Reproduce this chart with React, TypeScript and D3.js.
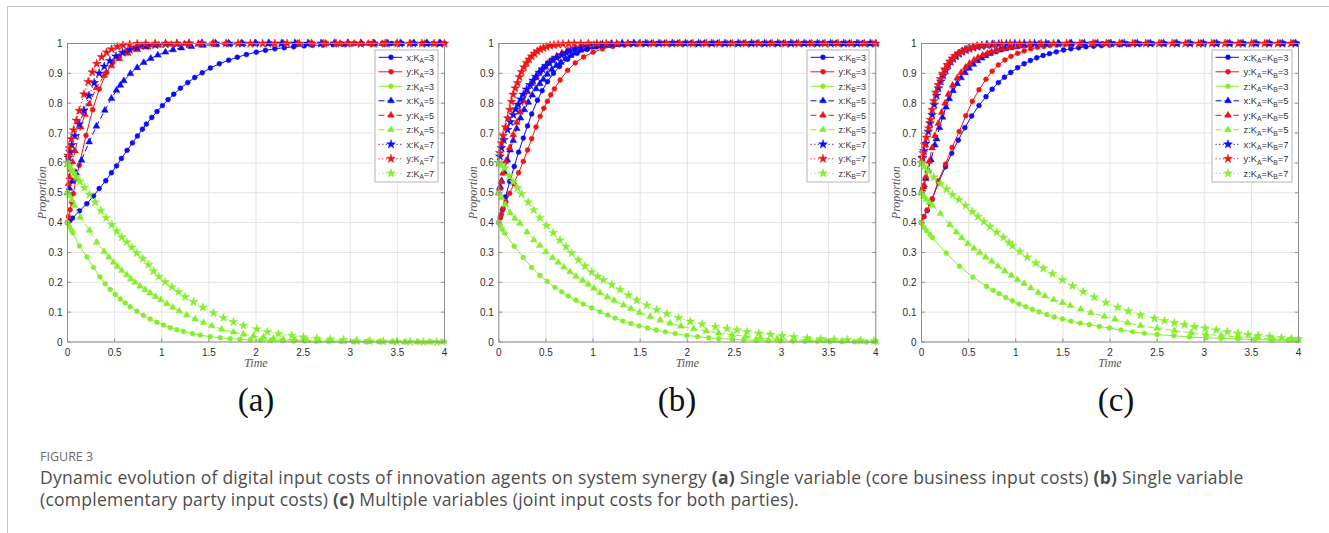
import React from 'react'
import * as d3 from 'd3'

type Pt = [number, number]

const W = 1329
const H = 533
const TOP = 43.5
const BOTTOM = 342
const PW = 377

const xTicks = [0, 0.5, 1, 1.5, 2, 2.5, 3, 3.5, 4]
const yTicks = [0, 0.1, 0.2, 0.3, 0.4, 0.5, 0.6, 0.7, 0.8, 0.9, 1]
const xTickLabels = ['0', '0.5', '1', '1.5', '2', '2.5', '3', '3.5', '4']
const yTickLabels = ['0', '0.1', '0.2', '0.3', '0.4', '0.5', '0.6', '0.7', '0.8', '0.9', '1']

// panel (a): K_A varies
const aX3: Pt[] = [[0,0.4],[0.025,0.406],[0.053,0.415],[0.127,0.439],[0.205,0.463],[0.276,0.489],[0.336,0.514],[0.406,0.54],[0.466,0.567],[0.52,0.59],[0.572,0.615],[0.632,0.642],[0.689,0.667],[0.742,0.69],[0.795,0.713],[0.837,0.73],[0.894,0.752],[0.95,0.772],[1.007,0.792],[1.067,0.812],[1.127,0.83],[1.198,0.85],[1.276,0.869],[1.35,0.886],[1.43,0.902],[1.516,0.918],[1.611,0.932],[1.71,0.944],[1.802,0.954],[1.898,0.963],[2.003,0.971],[2.1,0.977],[2.2,0.982],[2.3,0.986],[2.4,0.989],[2.51,0.992],[2.6,0.994],[2.71,0.995],[2.816,0.997],[2.92,0.997],[3.02,0.998],[3.12,0.999],[3.23,0.999],[3.34,0.999],[3.44,1],[3.55,1],[3.66,1],[3.76,1],[3.88,1],[4,1]]
const aY3: Pt[] = [[0,0.4],[0.01,0.42],[0.028,0.443],[0.045,0.468],[0.062,0.497],[0.09,0.545],[0.125,0.592],[0.196,0.692],[0.267,0.778],[0.337,0.847],[0.415,0.903],[0.48,0.936],[0.55,0.958],[0.62,0.973],[0.7,0.984],[0.78,0.99],[0.87,0.994],[0.96,0.997],[1.06,0.998],[1.17,0.999],[1.29,1],[1.42,1],[1.56,1],[1.7,1],[1.85,1],[2,1],[2.15,1],[2.3,1],[2.45,1],[2.6,1],[2.75,1],[2.9,1],[3.05,1],[3.2,1],[3.35,1],[3.5,1],[3.65,1],[3.8,1],[3.95,1]]
const aZ3: Pt[] = [[0,0.4],[0.021,0.385],[0.042,0.374],[0.057,0.365],[0.127,0.322],[0.205,0.285],[0.276,0.25],[0.343,0.218],[0.4,0.195],[0.453,0.176],[0.506,0.159],[0.559,0.144],[0.612,0.131],[0.665,0.118],[0.736,0.103],[0.806,0.089],[0.877,0.077],[0.948,0.066],[1.019,0.057],[1.089,0.048],[1.16,0.041],[1.23,0.035],[1.326,0.028],[1.41,0.023],[1.514,0.018],[1.62,0.014],[1.726,0.011],[1.83,0.009],[1.94,0.007],[2.05,0.006],[2.16,0.005],[2.28,0.004],[2.4,0.003],[2.52,0.003],[2.64,0.002],[2.77,0.002],[2.9,0.002],[3.03,0.001],[3.16,0.001],[3.3,0.001],[3.44,0.001],[3.58,0],[3.72,0],[3.86,0],[4,0]]
const aX5: Pt[] = [[0,0.5],[0.02,0.515],[0.05,0.538],[0.09,0.567],[0.148,0.609],[0.23,0.67],[0.307,0.723],[0.396,0.776],[0.466,0.816],[0.519,0.843],[0.56,0.86],[0.597,0.875],[0.668,0.899],[0.739,0.919],[0.809,0.936],[0.883,0.95],[0.958,0.961],[1.039,0.971],[1.12,0.979],[1.208,0.985],[1.314,0.99],[1.438,0.994],[1.58,0.997],[1.72,0.998],[1.86,0.999],[2,1],[2.14,1],[2.28,1],[2.42,1],[2.56,1],[2.7,1],[2.84,1],[2.98,1],[3.12,1],[3.26,1],[3.4,1],[3.54,1],[3.68,1],[3.82,1],[3.96,1]]
const aY5: Pt[] = [[0,0.5],[0.01,0.53],[0.02,0.553],[0.035,0.578],[0.053,0.603],[0.08,0.64],[0.141,0.72],[0.185,0.762],[0.23,0.797],[0.307,0.852],[0.389,0.893],[0.466,0.925],[0.55,0.949],[0.64,0.967],[0.74,0.979],[0.85,0.988],[0.97,0.994],[1.1,0.997],[1.24,0.999],[1.39,1],[1.54,1],[1.69,1],[1.84,1],[1.99,1],[2.14,1],[2.29,1],[2.44,1],[2.59,1],[2.74,1],[2.89,1],[3.04,1],[3.19,1],[3.34,1],[3.49,1],[3.64,1],[3.79,1],[3.94,1]]
const aZ5: Pt[] = [[0,0.5],[0.021,0.49],[0.045,0.476],[0.075,0.457],[0.134,0.418],[0.233,0.374],[0.311,0.334],[0.389,0.303],[0.439,0.284],[0.488,0.267],[0.53,0.253],[0.576,0.239],[0.63,0.225],[0.672,0.211],[0.718,0.2],[0.771,0.187],[0.824,0.175],[0.877,0.164],[0.934,0.152],[0.99,0.141],[1.054,0.128],[1.118,0.116],[1.185,0.104],[1.266,0.09],[1.355,0.077],[1.443,0.065],[1.531,0.054],[1.637,0.043],[1.761,0.033],[1.867,0.026],[1.973,0.02],[2.08,0.016],[2.186,0.012],[2.29,0.009],[2.415,0.007],[2.54,0.005],[2.67,0.004],[2.8,0.003],[2.93,0.002],[3.06,0.002],[3.19,0.001],[3.32,0.001],[3.45,0.001],[3.58,0],[3.71,0],[3.84,0],[3.97,0]]
const aX7: Pt[] = [[0,0.6],[0.01,0.618],[0.025,0.638],[0.045,0.66],[0.078,0.69],[0.124,0.73],[0.173,0.776],[0.228,0.825],[0.283,0.868],[0.336,0.9],[0.39,0.923],[0.45,0.942],[0.515,0.957],[0.585,0.969],[0.66,0.979],[0.74,0.987],[0.83,0.992],[0.93,0.995],[1.04,0.998],[1.16,0.999],[1.29,1],[1.43,1],[1.57,1],[1.71,1],[1.85,1],[1.99,1],[2.13,1],[2.27,1],[2.41,1],[2.55,1],[2.69,1],[2.83,1],[2.97,1],[3.11,1],[3.25,1],[3.39,1],[3.53,1],[3.67,1],[3.81,1],[3.95,1]]
const aY7: Pt[] = [[0,0.6],[0.008,0.625],[0.02,0.65],[0.04,0.68],[0.065,0.71],[0.095,0.742],[0.125,0.775],[0.175,0.83],[0.22,0.872],[0.263,0.904],[0.31,0.932],[0.362,0.955],[0.415,0.97],[0.468,0.981],[0.53,0.989],[0.59,0.994],[0.66,0.997],[0.74,0.999],[0.83,1],[0.93,1],[1.04,1],[1.16,1],[1.29,1],[1.42,1],[1.55,1],[1.68,1],[1.81,1],[1.94,1],[2.07,1],[2.2,1],[2.33,1],[2.46,1],[2.59,1],[2.72,1],[2.85,1],[2.98,1],[3.11,1],[3.24,1],[3.37,1],[3.5,1],[3.63,1],[3.76,1],[3.89,1],[4,1]]
const aZ7: Pt[] = [[0,0.6],[0.018,0.588],[0.04,0.577],[0.067,0.566],[0.095,0.553],[0.131,0.538],[0.18,0.517],[0.233,0.494],[0.294,0.468],[0.354,0.44],[0.41,0.416],[0.47,0.393],[0.523,0.371],[0.576,0.351],[0.63,0.334],[0.683,0.317],[0.736,0.298],[0.799,0.279],[0.859,0.259],[0.912,0.237],[0.97,0.219],[1.036,0.201],[1.107,0.184],[1.178,0.168],[1.248,0.151],[1.337,0.134],[1.436,0.116],[1.549,0.097],[1.655,0.081],[1.761,0.067],[1.867,0.055],[2.009,0.043],[2.122,0.034],[2.239,0.027],[2.38,0.021],[2.504,0.016],[2.645,0.012],[2.787,0.009],[2.928,0.007],[3.07,0.004],[3.21,0.003],[3.35,0.002],[3.494,0.001],[3.636,0.001],[3.777,0],[3.918,0]]

// panel (b): K_B varies
const bX3: Pt[] = [[0,0.4],[0.018,0.42],[0.04,0.443],[0.071,0.486],[0.116,0.538],[0.164,0.588],[0.21,0.636],[0.26,0.683],[0.305,0.724],[0.349,0.764],[0.41,0.81],[0.46,0.842],[0.516,0.872],[0.58,0.9],[0.644,0.923],[0.73,0.947],[0.83,0.967],[0.936,0.98],[1.04,0.989],[1.15,0.994],[1.27,0.997],[1.4,0.999],[1.54,1],[1.68,1],[1.82,1],[1.96,1],[2.1,1],[2.24,1],[2.38,1],[2.52,1],[2.66,1],[2.8,1],[2.94,1],[3.08,1],[3.22,1],[3.36,1],[3.5,1],[3.64,1],[3.78,1],[3.92,1]]
const bY3: Pt[] = [[0,0.4],[0.015,0.415],[0.028,0.428],[0.046,0.448],[0.075,0.47],[0.115,0.498],[0.16,0.53],[0.21,0.567],[0.26,0.605],[0.305,0.643],[0.349,0.681],[0.395,0.72],[0.438,0.756],[0.478,0.783],[0.516,0.806],[0.552,0.828],[0.59,0.848],[0.651,0.878],[0.73,0.91],[0.811,0.935],[0.9,0.955],[1,0.971],[1.1,0.982],[1.21,0.99],[1.33,0.995],[1.46,0.998],[1.6,0.999],[1.74,1],[1.88,1],[2.02,1],[2.16,1],[2.3,1],[2.44,1],[2.58,1],[2.72,1],[2.86,1],[3,1],[3.14,1],[3.28,1],[3.42,1],[3.56,1],[3.7,1],[3.84,1],[3.98,1]]
const bZ3: Pt[] = [[0,0.4],[0.018,0.39],[0.039,0.377],[0.064,0.364],[0.163,0.321],[0.259,0.283],[0.348,0.25],[0.436,0.223],[0.514,0.203],[0.596,0.183],[0.667,0.168],[0.738,0.154],[0.819,0.14],[0.897,0.127],[0.986,0.114],[1.074,0.101],[1.156,0.09],[1.234,0.08],[1.316,0.07],[1.401,0.062],[1.489,0.054],[1.578,0.047],[1.67,0.04],[1.766,0.034],[1.872,0.028],[1.996,0.022],[2.11,0.018],[2.227,0.014],[2.333,0.011],[2.475,0.009],[2.6,0.007],[2.73,0.005],[2.86,0.004],[2.99,0.003],[3.12,0.003],[3.25,0.002],[3.38,0.002],[3.51,0.001],[3.64,0.001],[3.77,0.001],[3.9,0],[4,0]]
const bX5: Pt[] = [[0,0.5],[0.015,0.52],[0.03,0.54],[0.055,0.57],[0.09,0.61],[0.12,0.643],[0.153,0.675],[0.19,0.715],[0.23,0.75],[0.27,0.778],[0.313,0.803],[0.355,0.827],[0.395,0.848],[0.435,0.865],[0.473,0.88],[0.515,0.897],[0.562,0.913],[0.61,0.926],[0.658,0.937],[0.71,0.949],[0.765,0.96],[0.815,0.969],[0.865,0.977],[0.925,0.983],[0.99,0.988],[1.07,0.992],[1.16,0.995],[1.26,0.997],[1.37,0.999],[1.49,1],[1.62,1],[1.76,1],[1.9,1],[2.04,1],[2.18,1],[2.32,1],[2.46,1],[2.6,1],[2.74,1],[2.88,1],[3.02,1],[3.16,1],[3.3,1],[3.44,1],[3.58,1],[3.72,1],[3.86,1],[4,1]]
const bY5: Pt[] = [[0,0.5],[0.01,0.515],[0.025,0.537],[0.045,0.565],[0.075,0.605],[0.115,0.65],[0.153,0.694],[0.19,0.735],[0.224,0.77],[0.265,0.808],[0.306,0.838],[0.35,0.865],[0.395,0.888],[0.435,0.905],[0.473,0.919],[0.515,0.933],[0.562,0.946],[0.615,0.958],[0.67,0.968],[0.735,0.977],[0.81,0.985],[0.89,0.99],[0.98,0.994],[1.08,0.997],[1.19,0.999],[1.31,1],[1.44,1],[1.58,1],[1.72,1],[1.86,1],[2,1],[2.14,1],[2.28,1],[2.42,1],[2.56,1],[2.7,1],[2.84,1],[2.98,1],[3.12,1],[3.26,1],[3.4,1],[3.54,1],[3.68,1],[3.82,1],[3.96,1]]
const bZ5: Pt[] = [[0,0.5],[0.028,0.484],[0.07,0.46],[0.12,0.433],[0.17,0.414],[0.223,0.398],[0.301,0.368],[0.372,0.342],[0.436,0.323],[0.5,0.302],[0.571,0.282],[0.631,0.267],[0.691,0.251],[0.755,0.235],[0.819,0.22],[0.89,0.206],[0.95,0.193],[1.01,0.18],[1.074,0.165],[1.152,0.151],[1.223,0.139],[1.323,0.124],[1.401,0.112],[1.493,0.099],[1.606,0.085],[1.713,0.073],[1.819,0.063],[1.933,0.053],[2.067,0.044],[2.202,0.037],[2.333,0.03],[2.475,0.024],[2.617,0.019],[2.777,0.014],[2.954,0.01],[3.13,0.008],[3.3,0.006],[3.47,0.004],[3.64,0.003],[3.82,0.002],[4,0.001]]
const bX7: Pt[] = [[0,0.6],[0.011,0.622],[0.028,0.65],[0.053,0.677],[0.093,0.711],[0.123,0.737],[0.153,0.761],[0.18,0.78],[0.206,0.796],[0.233,0.813],[0.26,0.829],[0.295,0.846],[0.331,0.861],[0.365,0.876],[0.395,0.889],[0.43,0.903],[0.463,0.914],[0.5,0.925],[0.537,0.935],[0.575,0.944],[0.616,0.952],[0.665,0.961],[0.715,0.969],[0.76,0.976],[0.811,0.982],[0.87,0.987],[0.936,0.991],[1.01,0.994],[1.1,0.997],[1.2,0.998],[1.31,1],[1.43,1],[1.56,1],[1.7,1],[1.84,1],[1.98,1],[2.12,1],[2.26,1],[2.4,1],[2.54,1],[2.68,1],[2.82,1],[2.96,1],[3.1,1],[3.24,1],[3.38,1],[3.52,1],[3.66,1],[3.8,1],[3.94,1]]
const bY7: Pt[] = [[0,0.6],[0.011,0.633],[0.028,0.666],[0.046,0.691],[0.071,0.72],[0.095,0.75],[0.117,0.778],[0.135,0.805],[0.153,0.829],[0.175,0.85],[0.199,0.868],[0.22,0.888],[0.242,0.905],[0.268,0.921],[0.295,0.935],[0.32,0.947],[0.349,0.957],[0.378,0.966],[0.409,0.974],[0.44,0.98],[0.473,0.985],[0.507,0.989],[0.544,0.993],[0.585,0.995],[0.63,0.997],[0.68,0.998],[0.74,0.999],[0.8,1],[0.87,1],[0.95,1],[1.04,1],[1.14,1],[1.25,1],[1.37,1],[1.5,1],[1.64,1],[1.78,1],[1.92,1],[2.06,1],[2.2,1],[2.34,1],[2.48,1],[2.62,1],[2.76,1],[2.9,1],[3.04,1],[3.18,1],[3.32,1],[3.46,1],[3.6,1],[3.74,1],[3.88,1],[4,1]]
const bZ7: Pt[] = [[0,0.6],[0.028,0.594],[0.064,0.582],[0.11,0.556],[0.153,0.537],[0.198,0.516],[0.241,0.496],[0.312,0.468],[0.372,0.442],[0.436,0.416],[0.507,0.39],[0.578,0.366],[0.649,0.341],[0.713,0.319],[0.773,0.298],[0.844,0.275],[0.915,0.254],[0.986,0.234],[1.05,0.22],[1.11,0.208],[1.199,0.192],[1.287,0.175],[1.376,0.157],[1.465,0.14],[1.571,0.123],[1.677,0.108],[1.784,0.095],[1.908,0.081],[2.032,0.069],[2.156,0.06],[2.298,0.051],[2.422,0.045],[2.528,0.04],[2.635,0.034],[2.759,0.029],[2.883,0.025],[3.007,0.021],[3.131,0.017],[3.273,0.013],[3.415,0.01],[3.557,0.008],[3.699,0.007],[3.84,0.005],[3.98,0.004]]

// panel (c): K_A = K_B varies
const cX3: Pt[] = [[0,0.4],[0.025,0.42],[0.06,0.44],[0.096,0.461],[0.113,0.477],[0.18,0.535],[0.255,0.587],[0.32,0.632],[0.39,0.676],[0.46,0.718],[0.532,0.757],[0.61,0.792],[0.684,0.822],[0.75,0.847],[0.816,0.869],[0.88,0.887],[0.947,0.903],[1.02,0.919],[1.089,0.932],[1.155,0.943],[1.223,0.952],[1.29,0.96],[1.358,0.966],[1.43,0.972],[1.507,0.978],[1.585,0.982],[1.667,0.986],[1.745,0.989],[1.826,0.991],[1.91,0.993],[2,0.995],[2.1,0.996],[2.2,0.997],[2.32,0.998],[2.45,0.999],[2.58,0.999],[2.72,1],[2.86,1],[3,1],[3.14,1],[3.28,1],[3.42,1],[3.56,1],[3.7,1],[3.84,1],[3.98,1]]
const cY3: Pt[] = [[0,0.4],[0.025,0.42],[0.06,0.442],[0.096,0.462],[0.113,0.48],[0.18,0.54],[0.255,0.596],[0.325,0.652],[0.4,0.705],[0.47,0.758],[0.539,0.806],[0.61,0.845],[0.684,0.88],[0.75,0.907],[0.816,0.928],[0.885,0.945],[0.95,0.957],[1.02,0.967],[1.089,0.975],[1.16,0.982],[1.23,0.987],[1.3,0.99],[1.365,0.993],[1.44,0.995],[1.52,0.997],[1.6,0.998],[1.7,0.999],[1.8,1],[1.92,1],[2.04,1],[2.17,1],[2.3,1],[2.44,1],[2.58,1],[2.72,1],[2.86,1],[3,1],[3.14,1],[3.28,1],[3.42,1],[3.56,1],[3.7,1],[3.84,1],[3.98,1]]
const cZ3: Pt[] = [[0,0.4],[0.025,0.385],[0.053,0.373],[0.089,0.36],[0.117,0.349],[0.262,0.298],[0.404,0.254],[0.546,0.217],[0.691,0.186],[0.76,0.173],[0.823,0.162],[0.894,0.149],[0.965,0.138],[1.035,0.127],[1.106,0.118],[1.177,0.109],[1.248,0.101],[1.33,0.092],[1.408,0.084],[1.496,0.077],[1.585,0.07],[1.684,0.063],[1.78,0.058],[1.887,0.052],[1.993,0.047],[2.117,0.04],[2.241,0.034],[2.365,0.029],[2.5,0.025],[2.677,0.021],[2.844,0.017],[3.02,0.014],[3.18,0.012],[3.358,0.01],[3.535,0.008],[3.713,0.007],[3.89,0.006],[4,0.005]]
const cX5: Pt[] = [[0,0.5],[0.02,0.52],[0.045,0.548],[0.07,0.575],[0.1,0.61],[0.142,0.66],[0.16,0.68],[0.19,0.718],[0.223,0.753],[0.26,0.787],[0.294,0.815],[0.335,0.842],[0.379,0.865],[0.42,0.885],[0.461,0.902],[0.505,0.917],[0.55,0.93],[0.595,0.942],[0.638,0.951],[0.68,0.959],[0.727,0.966],[0.78,0.972],[0.833,0.978],[0.89,0.982],[0.947,0.986],[1.01,0.989],[1.082,0.992],[1.16,0.995],[1.25,0.997],[1.35,0.998],[1.46,0.999],[1.58,1],[1.71,1],[1.85,1],[1.99,1],[2.13,1],[2.27,1],[2.41,1],[2.55,1],[2.69,1],[2.83,1],[2.97,1],[3.11,1],[3.25,1],[3.39,1],[3.53,1],[3.67,1],[3.81,1],[3.95,1]]
const cY5: Pt[] = [[0,0.5],[0.012,0.512],[0.028,0.526],[0.046,0.554],[0.082,0.605],[0.112,0.65],[0.142,0.691],[0.178,0.732],[0.214,0.769],[0.25,0.8],[0.285,0.83],[0.33,0.86],[0.379,0.884],[0.42,0.902],[0.468,0.92],[0.51,0.933],[0.557,0.944],[0.6,0.953],[0.649,0.961],[0.7,0.967],[0.745,0.972],[0.8,0.977],[0.862,0.982],[0.93,0.986],[0.993,0.989],[1.07,0.992],[1.15,0.995],[1.24,0.997],[1.34,0.998],[1.45,0.999],[1.57,1],[1.7,1],[1.84,1],[1.98,1],[2.12,1],[2.26,1],[2.4,1],[2.54,1],[2.68,1],[2.82,1],[2.96,1],[3.1,1],[3.24,1],[3.38,1],[3.52,1],[3.66,1],[3.8,1],[3.94,1]]
const cZ5: Pt[] = [[0,0.5],[0.025,0.487],[0.05,0.478],[0.082,0.468],[0.113,0.458],[0.2,0.43],[0.301,0.393],[0.369,0.368],[0.426,0.349],[0.493,0.329],[0.557,0.314],[0.617,0.3],[0.681,0.284],[0.745,0.27],[0.812,0.254],[0.883,0.238],[0.954,0.223],[1.018,0.209],[1.089,0.196],[1.16,0.181],[1.238,0.166],[1.309,0.154],[1.4,0.142],[1.496,0.132],[1.578,0.122],[1.69,0.11],[1.798,0.098],[1.94,0.086],[2.053,0.076],[2.188,0.064],[2.323,0.055],[2.5,0.046],[2.684,0.038],[2.862,0.031],[3.021,0.026],[3.18,0.021],[3.358,0.017],[3.553,0.013],[3.73,0.01],[3.926,0.008],[4,0.007]]
const cX7: Pt[] = [[0,0.6],[0.01,0.618],[0.025,0.64],[0.045,0.665],[0.071,0.705],[0.09,0.733],[0.113,0.761],[0.135,0.795],[0.16,0.826],[0.18,0.85],[0.205,0.873],[0.23,0.893],[0.256,0.91],[0.284,0.927],[0.31,0.939],[0.337,0.949],[0.368,0.958],[0.4,0.966],[0.435,0.973],[0.472,0.979],[0.51,0.983],[0.55,0.987],[0.595,0.99],[0.638,0.992],[0.69,0.995],[0.75,0.997],[0.82,0.998],[0.9,0.999],[0.99,1],[1.09,1],[1.2,1],[1.32,1],[1.45,1],[1.59,1],[1.73,1],[1.87,1],[2.01,1],[2.15,1],[2.29,1],[2.43,1],[2.57,1],[2.71,1],[2.85,1],[2.99,1],[3.13,1],[3.27,1],[3.41,1],[3.55,1],[3.69,1],[3.83,1],[3.97,1]]
const cY7: Pt[] = [[0,0.6],[0.008,0.615],[0.018,0.633],[0.035,0.661],[0.053,0.685],[0.078,0.716],[0.095,0.745],[0.113,0.778],[0.132,0.808],[0.152,0.836],[0.177,0.861],[0.202,0.881],[0.225,0.899],[0.248,0.914],[0.275,0.928],[0.301,0.94],[0.328,0.95],[0.355,0.958],[0.39,0.966],[0.426,0.972],[0.46,0.978],[0.496,0.983],[0.54,0.987],[0.585,0.99],[0.64,0.993],[0.7,0.995],[0.77,0.997],[0.85,0.999],[0.94,1],[1.04,1],[1.15,1],[1.27,1],[1.4,1],[1.54,1],[1.68,1],[1.82,1],[1.96,1],[2.1,1],[2.24,1],[2.38,1],[2.52,1],[2.66,1],[2.8,1],[2.94,1],[3.08,1],[3.22,1],[3.36,1],[3.5,1],[3.64,1],[3.78,1],[3.92,1]]
const cZ7: Pt[] = [[0,0.6],[0.028,0.588],[0.071,0.572],[0.13,0.552],[0.2,0.53],[0.267,0.512],[0.33,0.493],[0.397,0.477],[0.468,0.457],[0.539,0.437],[0.599,0.42],[0.663,0.403],[0.727,0.386],[0.798,0.368],[0.869,0.35],[0.93,0.333],[0.965,0.322],[1.043,0.303],[1.124,0.284],[1.213,0.264],[1.294,0.247],[1.39,0.229],[1.496,0.208],[1.603,0.188],[1.716,0.168],[1.833,0.15],[1.957,0.132],[2.082,0.116],[2.195,0.103],[2.323,0.09],[2.472,0.079],[2.578,0.071],[2.684,0.064],[2.791,0.058],[2.897,0.051],[3.011,0.046],[3.128,0.04],[3.245,0.034],[3.358,0.029],[3.465,0.025],[3.571,0.021],[3.695,0.018],[3.819,0.014],[3.926,0.011],[4,0.01]]

const seriesVars = ['x', 'y', 'z', 'x', 'y', 'z', 'x', 'y', 'z']
const seriesK = [3, 3, 3, 5, 5, 5, 7, 7, 7]

const COLORS: Record<string, string> = { x: '#0a0aff', y: '#f01414', z: '#84ee2c' }
const DASH: Record<number, string | undefined> = { 3: undefined, 5: '6,3', 7: '1.2,2.4' }
const SYMBOL: Record<number, any> = { 3: d3.symbolCircle, 5: d3.symbolTriangle, 7: d3.symbolStar }
const SYMSIZE: Record<number, number> = { 3: 19, 5: 20, 7: 24 }

const panels = [
  { left: 67.5, sub: ['A'], label: '(a)', labelX: 256, data: [aX3, aY3, aZ3, aX5, aY5, aZ5, aX7, aY7, aZ7], legendX: 375, legendW: 63, textLen: 0 },
  { left: 498.8, sub: ['B'], label: '(b)', labelX: 677, data: [bX3, bY3, bZ3, bX5, bY5, bZ5, bX7, bY7, bZ7], legendX: 807, legendW: 62, textLen: 0 },
  { left: 921.5, sub: ['A', 'B'], label: '(c)', labelX: 1116, data: [cX3, cY3, cZ3, cX5, cY5, cZ5, cX7, cY7, cZ7], legendX: 1212, legendW: 80, textLen: 45 },
]

const AXIS_COLOR = '#8f8f8f'
const TICK_FONT = 'Liberation Sans, Arial, sans-serif'

const LegendLabel = ({ v, subs, k }: { v: string; subs: string[]; k: number }) => {
  const parts: React.ReactNode[] = [<tspan key="v">{v}:K</tspan>]
  subs.forEach((s, i) => {
    parts.push(<tspan key={'s' + i} fontSize={6.5} dy={2.5}>{s}</tspan>)
    parts.push(<tspan key={'e' + i} dy={-2.5}>{i < subs.length - 1 ? '=K' : `=${k}`}</tspan>)
  })
  return <>{parts}</>
}

const Panel = ({ p }: { p: typeof panels[number] }) => {
  const x = d3.scaleLinear().domain([0, 4]).range([p.left, p.left + PW])
  const y = d3.scaleLinear().domain([0, 1]).range([BOTTOM, TOP])
  const line = d3.line<Pt>().x(d => x(d[0])).y(d => y(d[1]))

  return (
    <g>
      {xTicks.map(t => (
        <line key={'gx' + t} x1={x(t)} x2={x(t)} y1={TOP} y2={BOTTOM} stroke="#e4e4e4" strokeWidth={1} />
      ))}
      {yTicks.map(t => (
        <line key={'gy' + t} x1={p.left} x2={p.left + PW} y1={y(t)} y2={y(t)} stroke="#e4e4e4" strokeWidth={1} />
      ))}

      {p.data.map((d, i) => {
        const color = COLORS[seriesVars[i]]
        const k = seriesK[i]
        const sym = d3.symbol().type(SYMBOL[k]).size(SYMSIZE[k])()
        return (
          <g key={i}>
            <path d={line(d) || ''} fill="none" stroke={color} strokeWidth={1} strokeDasharray={DASH[k]} />
            {d.map((pt, j) => (
              <path key={j} d={sym || ''} transform={`translate(${x(pt[0])},${y(pt[1])})`} fill={color} stroke={color} strokeWidth={0.5} />
            ))}
          </g>
        )
      })}

      <rect x={p.left} y={TOP} width={PW} height={BOTTOM - TOP} fill="none" stroke={AXIS_COLOR} strokeWidth={1} />
      {xTicks.map(t => (
        <g key={'tx' + t}>
          <line x1={x(t)} x2={x(t)} y1={BOTTOM} y2={BOTTOM - 3.5} stroke={AXIS_COLOR} />
          <line x1={x(t)} x2={x(t)} y1={TOP} y2={TOP + 3.5} stroke={AXIS_COLOR} />
        </g>
      ))}
      {yTicks.map(t => (
        <g key={'ty' + t}>
          <line x1={p.left} x2={p.left + 3.5} y1={y(t)} y2={y(t)} stroke={AXIS_COLOR} />
          <line x1={p.left + PW} x2={p.left + PW - 3.5} y1={y(t)} y2={y(t)} stroke={AXIS_COLOR} />
        </g>
      ))}
      {xTicks.map((t, i) => (
        <text key={'lx' + t} x={x(t)} y={BOTTOM + 13.5} textAnchor="middle" fontFamily={TICK_FONT} fontSize={10} fill="#2e2e2e">{xTickLabels[i]}</text>
      ))}
      {yTicks.map((t, i) => (
        <text key={'ly' + t} x={p.left - 5} y={y(t) + 3.5} textAnchor="end" fontFamily={TICK_FONT} fontSize={10} fill="#2e2e2e">{yTickLabels[i]}</text>
      ))}

      <text x={p.left + PW / 2} y={367} textAnchor="middle" fontFamily="Liberation Serif, serif" fontStyle="italic" fontSize={12} fill="#555">Time</text>
      <text transform={`translate(${p.left - 22},${(TOP + BOTTOM) / 2}) rotate(-90)`} textAnchor="middle" fontFamily="Liberation Serif, serif" fontStyle="italic" fontSize={12} fill="#555">Proportion</text>

      <rect x={p.legendX} y={50} width={p.legendW} height={132} fill="#fff" stroke="#b5b5b5" strokeWidth={1} />
      {p.data.map((_, i) => {
        const color = COLORS[seriesVars[i]]
        const k = seriesK[i]
        const ly = 57.3 + i * 14.5
        const sym = d3.symbol().type(SYMBOL[k]).size(SYMSIZE[k])()
        return (
          <g key={'lg' + i}>
            <line x1={p.legendX + 3.5} x2={p.legendX + 27} y1={ly} y2={ly} stroke={color} strokeWidth={1} strokeDasharray={DASH[k]} />
            <path d={sym || ''} transform={`translate(${p.legendX + 16},${ly})`} fill={color} stroke={color} strokeWidth={0.5} />
            <text
              x={p.legendX + 31.5}
              y={ly + 3.2}
              fontFamily={TICK_FONT}
              fontSize={9}
              fill="#333"
              textLength={p.textLen || undefined}
              lengthAdjust={p.textLen ? 'spacingAndGlyphs' : undefined}
            >
              <LegendLabel v={seriesVars[i]} subs={p.sub} k={k} />
            </text>
          </g>
        )
      })}

      <text x={p.labelX} y={411} textAnchor="middle" fontFamily="Liberation Serif, serif" fontSize={33} fill="#111">{p.label}</text>
    </g>
  )
}

const App = () => {
  return (
    <svg width={W} height={H} viewBox={`0 0 ${W} ${H}`} style={{ position: 'absolute', left: 0, top: 0, background: '#fff' }}>
      <rect x={0} y={0} width={W} height={H} fill="#fff" />
      <line x1={7} x2={W} y1={6.5} y2={6.5} stroke="#c4c4c4" strokeWidth={1} />
      <line x1={7.5} x2={7.5} y1={6.5} y2={H} stroke="#c4c4c4" strokeWidth={1} />
      {panels.map(p => <Panel key={p.label} p={p} />)}
      <text x={40} y={461} fontFamily="Open Sans, sans-serif" fontSize={12.5} fill="#6a6a6a">FIGURE 3</text>
      <text x={40} y={484} fontFamily="Open Sans, sans-serif" fontSize={17.5} letterSpacing={0.25} fill="#4d4d4d">
        Dynamic evolution of digital input costs of innovation agents on system synergy <tspan fontWeight={700}>(a)</tspan> Single variable (core business input costs) <tspan fontWeight={700}>(b)</tspan> Single variable
      </text>
      <text x={40} y={506} fontFamily="Open Sans, sans-serif" fontSize={17.5} letterSpacing={0.25} fill="#4d4d4d">
        (complementary party input costs) <tspan fontWeight={700}>(c)</tspan> Multiple variables (joint input costs for both parties).
      </text>
    </svg>
  )
}

export default App
